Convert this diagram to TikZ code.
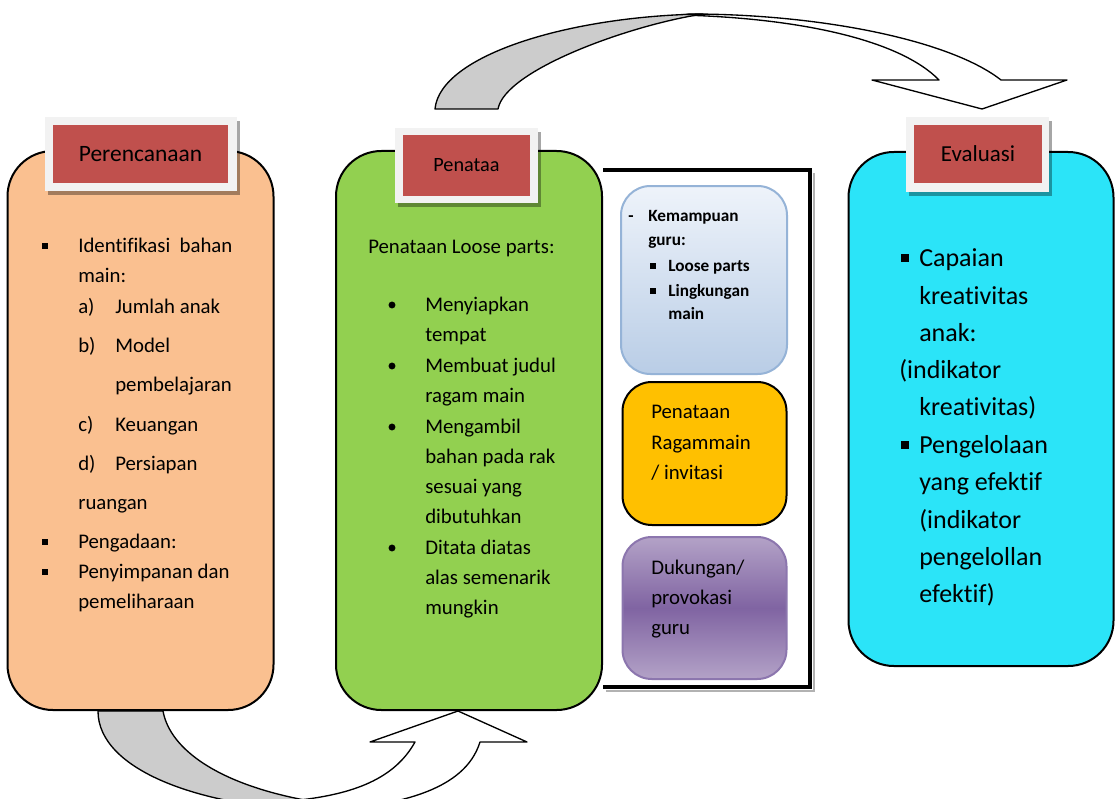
\documentclass[tikz,border=0pt]{standalone}
\usepackage{fontspec}
\setmainfont{Carlito}[Ligatures={NoCommon,NoContextual}]
\usetikzlibrary{shadows}
\definecolor{orangebox}{HTML}{FAC090}
\definecolor{greenbox}{HTML}{92D050}
\definecolor{cyanbox}{HTML}{2BE4F8}
\definecolor{labelred}{HTML}{C0504D}
\definecolor{labelframe}{HTML}{F2F2F2}
\definecolor{yellowbox}{HTML}{FFC000}
\definecolor{arrowgray}{HTML}{CCCCCC}
\definecolor{bluetop}{HTML}{EEF3FA}
\definecolor{bluebot}{HTML}{B9CDE6}
\definecolor{blueline}{HTML}{95B3D7}
\definecolor{purplelight}{HTML}{B3A2C7}
\definecolor{purpledark}{HTML}{8064A2}
\definecolor{purpleline}{HTML}{8C76AE}
\begin{document}
\begin{tikzpicture}[x=0.75pt,y=-0.75pt,
  bigbox/.style={draw=black, line width=1.5pt, rounded corners=34pt, inner sep=0pt},
  smallbox/.style={line width=1.5pt, rounded corners=22pt, inner sep=0pt,
     minimum width={164*0.75pt}},
  frame/.style={fill=labelframe, inner sep=0pt,
     drop shadow={shadow xshift=2.5pt, shadow yshift=-3pt, fill=black, opacity=0.35}},
  redlab/.style={fill=labelred, inner sep=0pt},
  labtxt/.style={inner sep=0pt, text=black},
  txt/.style={anchor=mid west, inner sep=0pt, yshift=-2.6pt, font=\fontsize{15.6}{18}\selectfont},
  btxt/.style={anchor=mid west, inner sep=0pt, yshift=-1.5pt, font=\fontsize{12.9}{14}\selectfont\bfseries},
  ctxt/.style={anchor=mid west, inner sep=0pt, yshift=-3.6pt, font=\fontsize{19.5}{22}\selectfont},
  sq/.style={fill=black, inner sep=0pt, minimum size=4.5pt},
  sqbig/.style={fill=black, inner sep=0pt, minimum size=5.5pt},
  dot/.style={circle, fill=black, inner sep=0pt, minimum size=5.2pt},
  arrowline/.style={draw=black, line width=1pt, line join=round}
]
\useasboundingbox (0,0) rectangle (1115,799);
\fill[white] (0,0) rectangle (1115,799);

% ---------- top curved block arrow ----------
\coordinate (tw1) at (680,15);
\coordinate (tw2) at (1001,80);
\coordinate (th1) at (1067,80);
\coordinate (tip1) at (982,109);
\coordinate (th2) at (872,80);
\coordinate (tw3) at (939,80);
\filldraw[arrowline, fill=white] (tw1) -- (690,14) .. controls (820,14) and (950,40) .. (tw2)
   -- (th1) -- (tip1) -- (th2) -- (tw3) .. controls (900,40) and (800,18) .. (tw1) -- cycle;
\coordinate (tg1) at (435,109);
\coordinate (tg2) at (703,14);
\coordinate (tg3) at (498,109);
\filldraw[arrowline, fill=arrowgray] (tg1) .. controls (440,55) and (570,16) .. (tg2)
   .. controls (630,25) and (505,70) .. (tg3) -- cycle;

% ---------- bottom curved block arrow ----------
\begin{scope}
\clip (0,0) rectangle (1115,799);
\coordinate (bw1) at (290,801);
\coordinate (bw2) at (415,742);
\coordinate (bh1) at (370,742);
\coordinate (tip2) at (458,711);
\coordinate (bh2) at (527,742);
\coordinate (bw3) at (480,742);
\coordinate (bw4) at (300,812);
\filldraw[arrowline, fill=white] (bw1) .. controls (355,795) and (395,778) .. (bw2)
   -- (bh1) -- (tip2) -- (bh2) -- (bw3) .. controls (465,790) and (400,808) .. (bw4) -- cycle;
\coordinate (bg1) at (98,711);
\coordinate (bg2) at (310,810);
\coordinate (bg3) at (310,801);
\coordinate (bg4) at (163,711);
\filldraw[arrowline, fill=arrowgray] (bg1) .. controls (98,770) and (200,806) .. (bg2)
   -- (bg3) .. controls (220,785) and (170,750) .. (bg4) -- cycle;
\end{scope}

% ---------- bracket ----------
\coordinate (k1) at (603,170);
\coordinate (k2) at (810,170);
\coordinate (k3) at (810,687);
\coordinate (k4) at (603,687);
\draw[gray!60, line width=1.5pt] (813.5,173) -- (813.5,690.5) -- (606,690.5);
\draw[black, line width=3pt] (k1) -- (k2) -- (k3) -- (k4);

% ---------- main boxes ----------
\node[bigbox, fill=orangebox, minimum width={266*0.75pt}, minimum height={559*0.75pt}] (plan) at (140.5,430.5) {};
\node[bigbox, fill=greenbox, minimum width={266*0.75pt}, minimum height={559*0.75pt}] (arr) at (469,430.5) {};
\node[bigbox, fill=cyanbox, minimum width={265*0.75pt}, minimum height={514*0.75pt}] (eval) at (981,409) {};

% ---------- right inner boxes ----------
\node[smallbox, draw=blueline, top color=bluetop, bottom color=bluebot,
   minimum width={166*0.75pt}, minimum height={188*0.75pt}] (skill) at (704,280) {};
\node[smallbox, draw=black, fill=yellowbox, minimum height={143*0.75pt}] (ragam) at (704.5,453.5) {};
\node[smallbox, draw=purpleline, top color=purplelight, bottom color=purplelight,
   middle color=purpledark, minimum height={142*0.75pt}] (prov) at (704.5,608) {};

% ---------- labels ----------
\node[frame, minimum width={192*0.75pt}, minimum height={74*0.75pt}] (f1) at (141,154) {};
\node[redlab, minimum width={175*0.75pt}, minimum height={58*0.75pt}] (r1) at (140.5,154) {};
\node[labtxt, font=\fontsize{17.6}{20}\selectfont] (l1) at (r1) {Perencanaan};

\node[frame, minimum width={143*0.75pt}, minimum height={75*0.75pt}] (f2) at (466.5,165.5) {};
\node[redlab, minimum width={127*0.75pt}, minimum height={60*0.75pt}] (r2) at (466.5,165.5) {};
\node[labtxt, font=\fontsize{15.2}{17}\selectfont] (l2) at (r2) {Penataa};

\node[frame, minimum width={143*0.75pt}, minimum height={75*0.75pt}] (f3) at (977.5,154.5) {};
\node[redlab, minimum width={128*0.75pt}, minimum height={58*0.75pt}] (r3) at (978,154) {};
\node[labtxt, font=\fontsize{17.2}{19}\selectfont] (l3) at (r3) {Evaluasi};

% ---------- Perencanaan text ----------
\node[sq] (ob1) at (45,246) {};
\node[txt] (o1) at (78,246) {Identifikasi\hspace{0.45em}bahan};
\node[txt] (o2) at (78,276) {main:};
\node[txt] (o3a) at (78,307) {a)};
\node[txt] (o3) at (115,307) {Jumlah anak};
\node[txt] (o4a) at (78,346) {b)};
\node[txt] (o4) at (115,346) {Model};
\node[txt] (o5) at (115,385) {pembelajaran};
\node[txt] (o6a) at (78,425) {c)};
\node[txt] (o6) at (115,425) {Keuangan};
\node[txt] (o7a) at (78,464) {d)};
\node[txt] (o7) at (115,464) {Persiapan};
\node[txt] (o8) at (78,503) {ruangan};
\node[sq] (ob2) at (45,542) {};
\node[txt] (o9) at (78,542) {Pengadaan:};
\node[sq] (ob3) at (45,572) {};
\node[txt] (o10) at (78,572) {Penyimpanan dan};
\node[txt] (o11) at (78,602) {pemeliharaan};

% ---------- Penataan text ----------
\node[txt] (g0) at (368,247) {Penataan Loose parts:};
\node[dot] (gb1) at (392,305) {};
\node[dot] (gb2) at (392,366) {};
\node[dot] (gb3) at (392,427) {};
\node[dot] (gb4) at (392,548) {};
\node[txt] (g1) at (425,305) {Menyiapkan};
\node[txt] (g2) at (425,335) {tempat};
\node[txt] (g3) at (425,366) {Membuat judul};
\node[txt] (g4) at (425,396) {ragam main};
\node[txt] (g5) at (425,427) {Mengambil};
\node[txt] (g6) at (425,457) {bahan pada rak};
\node[txt] (g7) at (425,487) {sesuai yang};
\node[txt] (g8) at (425,517) {dibutuhkan};
\node[txt] (g9) at (425,548) {Ditata diatas};
\node[txt] (g10) at (425,578) {alas semenarik};
\node[txt] (g11) at (425,608) {mungkin};

% ---------- inner box text ----------
\node[btxt] (s0) at (628,216) {-};
\node[btxt] (s1) at (648,216) {Kemampuan};
\node[btxt] (s2) at (648,240) {guru:};
\node[sq, minimum size=4.2pt] (sb1) at (653,266) {};
\node[sq, minimum size=4.2pt] (sb2) at (653,291) {};
\node[btxt] (s3) at (668,266) {Loose parts};
\node[btxt] (s4) at (668,291) {Lingkungan};
\node[btxt] (s5) at (668,314) {main};

\node[txt] (y1) at (651,412) {Penataan};
\node[txt] (y2) at (651,443) {Ragammain};
\node[txt] (y3) at (651,473) {/ invitasi};

\node[txt] (p1) at (651,568) {Dukungan/};
\node[txt] (p2) at (651,598) {provokasi};
\node[txt] (p3) at (651,628) {guru};

% ---------- Evaluasi text ----------
\node[sqbig] (cb1) at (905,258) {};
\node[ctxt] (c1) at (919,259) {Capaian};
\node[ctxt] (c2) at (919,297) {kreativitas};
\node[ctxt] (c3) at (919,334) {anak:};
\node[ctxt] (c4) at (899,371) {(indikator};
\node[ctxt] (c5) at (919,408) {kreativitas)};
\node[sqbig] (cb2) at (905,445) {};
\node[ctxt] (c6) at (919,446) {Pengelolaan};
\node[ctxt] (c7) at (919,483) {yang efektif};
\node[ctxt] (c8) at (919,521) {(indikator};
\node[ctxt] (c9) at (919,558) {pengelollan};
\node[ctxt] (c10) at (919,595) {efektif)};
\end{tikzpicture}
\end{document}
